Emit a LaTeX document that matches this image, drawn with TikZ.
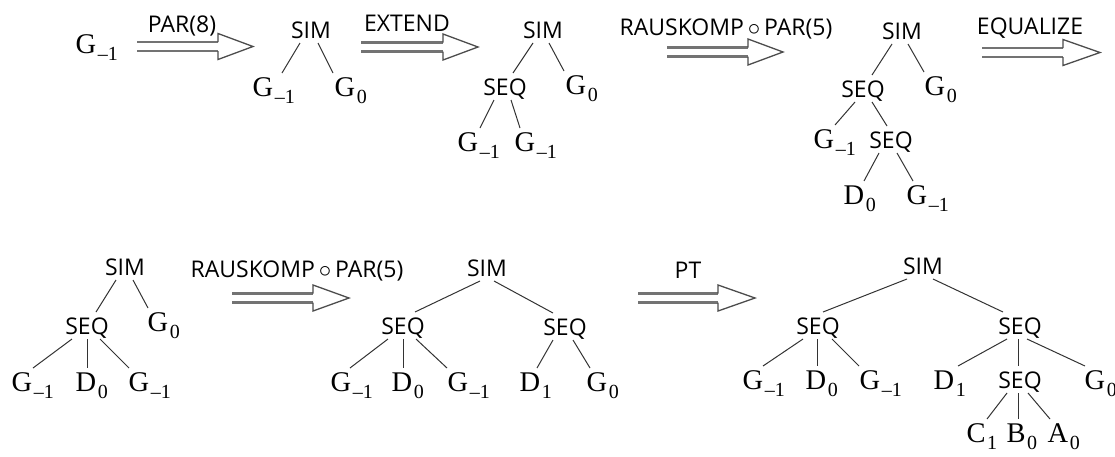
\documentclass[tikz,border=0pt]{standalone}
\usepackage{fontspec}
\newfontfamily\sansf{Open Sans}
\newfontfamily\seriff{Liberation Serif}
\newcommand\sub[2]{#1\rlap{\kern1.5pt\smash{\raisebox{-7.5pt}{\fontsize{20}{20}\selectfont #2}}}}
\newcommand\ed[4]{\draw[edge] ([shift={(#2,13)}]#1.center) -- ([shift={(#4,-14)}]#3.center);}
\newcommand\trarr[4]{%
  \draw[shaft] (#1,#4-4.5) -- (#2,#4-4.5) (#1,#4+4.5) -- (#2,#4+4.5);
  \draw[head] (#2,#4-4.5) -- (#2,#4-13) -- (#3,#4) -- (#2,#4+13) -- (#2,#4+4.5);}
\tikzset{
  op/.style={font=\sansf\fontsize{23}{23}\selectfont, inner sep=0pt, text height=16.4pt, text depth=0pt},
  lab/.style={op},
  lf/.style={font=\seriff\fontsize{28.5}{28.5}\selectfont, inner sep=0pt, text height=18.8pt, text depth=0pt},
  edge/.style={line width=1pt, black!80},
  shaft/.style={line width=2.5pt, black!55},
  head/.style={line width=1.3pt, black!70, line join=miter},
}
\begin{document}
\begin{tikzpicture}[x=1pt,y=-1pt]
\useasboundingbox (0,0) rectangle (1115,456);
% start
\node[lf] (g0) at (86,44) {\sub{G}{–1}};
% arrows and labels
\trarr{137}{218}{253}{46.5}
\node[lab] (l1) at (182,24) {PAR(8)};
\trarr{361}{443}{478}{47}
\node[lab] (l2) at (407,23.5) {EXTEND};
\trarr{667}{748}{783}{52}
\node[lab] (l3) at (726,27) {RAUSKOMP\,$\circ$\,PAR(5)};
\trarr{982}{1063}{1100}{52.5}
\node[lab] (l4) at (1030,26) {EQUALIZE};
\trarr{232}{313}{349}{298}
\node[lab] (l5) at (297,269) {RAUSKOMP\,$\circ$\,PAR(5)};
\trarr{638}{718}{755}{298}
\node[lab] (l6) at (688,270) {PT};
% tree 1
\node[op] (s1) at (311,30) {SIM};
\node[lf] (g1a) at (263,87) {\sub{G}{–1}};
\node[lf] (g1b) at (345,87) {\sub{G}{0}};
\ed{s1}{-11}{g1a}{19}
\ed{s1}{7}{g1b}{-12}
% tree 2
\node[op] (s2) at (543,30) {SIM};
\node[op] (q2) at (505,87) {SEQ};
\node[lf] (g2c) at (576,85) {\sub{G}{0}};
\node[lf] (g2a) at (468,142) {\sub{G}{–1}};
\node[lf] (g2b) at (525,142) {\sub{G}{–1}};
\ed{s2}{-10}{q2}{8}
\ed{s2}{6}{g2c}{-12}
\ed{q2}{-11}{g2a}{12}
\ed{q2}{6}{g2b}{-5}
% tree 3
\node[op] (s3) at (902,31) {SIM};
\node[op] (q3a) at (863,89) {SEQ};
\node[lf] (g3c) at (935,86) {\sub{G}{0}};
\node[lf] (g3a) at (824,139) {\sub{G}{–1}};
\node[op] (q3b) at (891,140) {SEQ};
\node[lf] (d3) at (854,195) {\sub{D}{0}};
\node[lf] (g3b) at (917,195) {\sub{G}{–1}};
\ed{s3}{-10}{q3a}{9}
\ed{s3}{6}{g3c}{-11}
\ed{q3a}{-8}{g3a}{11}
\ed{q3a}{9}{q3b}{-4}
\ed{q3b}{-12}{d3}{10}
\ed{q3b}{6}{g3b}{-4}
% tree 4
\node[op] (s4) at (125,267) {SIM};
\node[op] (q4) at (87,326) {SEQ};
\node[lf] (g4c) at (158,322) {\sub{G}{0}};
\node[lf] (g4a) at (22,382) {\sub{G}{–1}};
\node[lf] (d4) at (86,382) {\sub{D}{0}};
\node[lf] (g4b) at (139,382) {\sub{G}{–1}};
\ed{s4}{-9}{q4}{9}
\ed{s4}{8}{g4c}{-10}
\ed{q4}{-15}{g4a}{11}
\ed{q4}{0}{d4}{1}
\ed{q4}{13}{g4b}{-10}
% tree 5
\node[op] (s5) at (487,268) {SIM};
\node[op] (q5a) at (403,326) {SEQ};
\node[op] (q5b) at (565,327) {SEQ};
\node[lf] (g5a) at (341,382) {\sub{G}{–1}};
\node[lf] (d5a) at (402,382) {\sub{D}{0}};
\node[lf] (g5b) at (458,382) {\sub{G}{–1}};
\node[lf] (d5b) at (530,382) {\sub{D}{1}};
\node[lf] (g5c) at (597,382) {\sub{G}{0}};
\ed{s5}{-7}{q5a}{12}
\ed{s5}{7}{q5b}{-12}
\ed{q5a}{-15}{g5a}{9}
\ed{q5a}{0}{d5a}{1}
\ed{q5a}{13}{g5b}{-11}
\ed{q5b}{-12}{d5b}{7}
\ed{q5b}{8}{g5c}{-7}
% tree 6
\node[op] (s6) at (923,266) {SIM};
\node[op] (q6a) at (818,326) {SEQ};
\node[op] (q6b) at (1020,326) {SEQ};
\node[lf] (g6a) at (753,380) {\sub{G}{–1}};
\node[lf] (d6a) at (816,380) {\sub{D}{0}};
\node[lf] (g6b) at (870,380) {\sub{G}{–1}};
\node[lf] (d6b) at (944,380) {\sub{D}{1}};
\node[op] (q6c) at (1020,380) {SEQ};
\node[lf] (g6c) at (1095,380) {\sub{G}{0}};
\node[lf] (c6) at (976,433) {\sub{C}{1}};
\node[lf] (b6) at (1016,433) {\sub{B}{0}};
\node[lf] (a6) at (1058,433) {\sub{A}{0}};
\ed{s6}{-16}{q6a}{5}
\ed{s6}{10}{q6b}{-17}
\ed{q6a}{-15}{g6a}{10}
\ed{q6a}{-1}{d6a}{1}
\ed{q6a}{14}{g6b}{-11}
\ed{q6b}{-13}{d6b}{14}
\ed{q6b}{-2}{q6c}{-2}
\ed{q6b}{7}{g6c}{-10}
\ed{q6c}{-13}{c6}{11}
\ed{q6c}{-2}{b6}{2}
\ed{q6c}{8}{a6}{-8}
\end{tikzpicture}
\end{document}
